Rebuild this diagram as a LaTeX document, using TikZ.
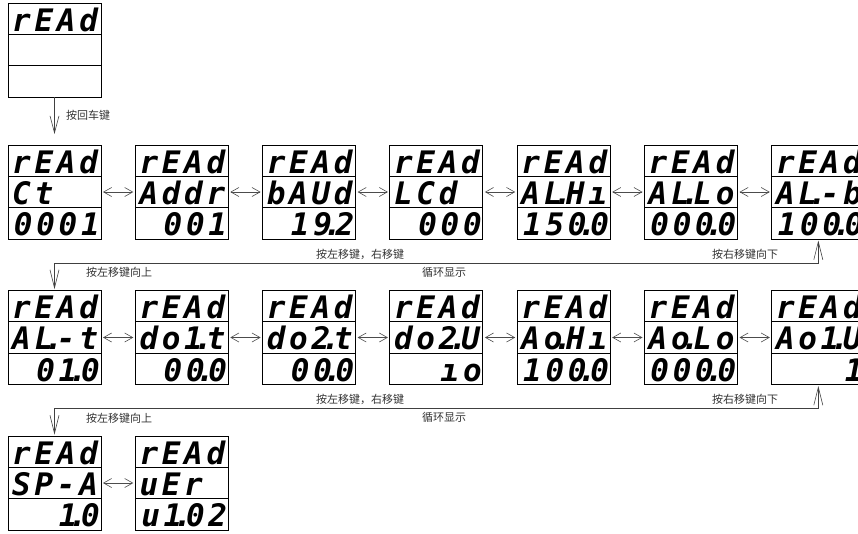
\documentclass[tikz,border=0pt]{standalone}
\usepackage{fontspec}
\newfontfamily\seg{DejaVu Sans Mono}[LetterSpace=12]
\newfontfamily\cjk{Noto Sans CJK SC}
\usetikzlibrary{arrows.meta,calc}
\newcommand\dt{\kern0.02em\makebox[0pt]{.}\kern0.10em}
\newcommand\lcd[6]{%
 \node[lcdbox] (#1) at (#2,#3) {};
 \draw[divline] ($(#1.north west)+(0,31.3)$) -- ($(#1.north east)+(0,31.3)$);
 \draw[divline] ($(#1.north west)+(0,62.7)$) -- ($(#1.north east)+(0,62.7)$);
 \node[segtxt,anchor=base west] (#1-t) at ($(#1.north west)+(4,28)$) {#4};
 \node[segtxt,anchor=base west] (#1-m) at ($(#1.north west)+(4,59.3)$) {#5};
 \node[segtxt,anchor=base east] (#1-b) at ($(#1.north east)+(-1,90.7)$) {#6};
 \coordinate (#1-e) at ($(#1.north east)+(0,47)$);
 \coordinate (#1-w) at ($(#1.north west)+(0,47)$);
}
\begin{document}
\begin{tikzpicture}[x=1pt,y=-1pt,
  lcdbox/.style={draw, line width=0.9pt, minimum width=93pt, minimum height=94pt, inner sep=0pt, outer sep=0pt, anchor=north west},
  divline/.style={line width=0.7pt},
  segtxt/.style={font=\seg\bfseries\itshape\fontsize{31}{31}\selectfont, inner sep=0pt, text depth=0pt},
  dbl/.style={draw=black!70, line width=0.6pt, {Straight Barb[length=8pt,width=9pt]}-{Straight Barb[length=8pt,width=9pt]}},
  lp/.style={draw=black!75, line width=0.6pt, {Straight Barb[length=18pt,width=9pt]}-{Straight Barb[length=18pt,width=9pt]}},
  varr/.style={draw=black!75, line width=0.6pt, -{Straight Barb[length=17pt,width=9pt]}},
  lab/.style={font=\cjk\fontsize{11}{11}\selectfont, text=black!80, inner sep=0pt}]
\useasboundingbox (0,0) rectangle (858,533);
\clip (0,0) rectangle (858,533);
% top
\lcd{top}{8}{3}{rEAd}{}{}
% row 1
\lcd{r1c1}{8}{145}{rEAd}{Ct}{0001}
\lcd{r1c2}{135.3}{145}{rEAd}{Addr}{001}
\lcd{r1c3}{262.6}{145}{rEAd}{bAUd}{19\dt2}
\lcd{r1c4}{389.9}{145}{rEAd}{LCd}{000}
\lcd{r1c5}{517.2}{145}{rEAd}{AL\dt Hı}{150\dt0}
\lcd{r1c6}{644.5}{145}{rEAd}{AL\dt Lo}{000\dt0}
\lcd{r1c7}{771.8}{145}{rEAd}{AL\dt-b}{100\dt0}
% row 2
\lcd{r2c1}{8}{290.5}{rEAd}{AL\dt-t}{01\dt0}
\lcd{r2c2}{135.3}{290.5}{rEAd}{do1\dt t}{00\dt0}
\lcd{r2c3}{262.6}{290.5}{rEAd}{do2\dt t}{00\dt0}
\lcd{r2c4}{389.9}{290.5}{rEAd}{do2\dt U}{ıo}
\lcd{r2c5}{517.2}{290.5}{rEAd}{Ao\dt Hı}{100\dt0}
\lcd{r2c6}{644.5}{290.5}{rEAd}{Ao\dt Lo}{000\dt0}
\lcd{r2c7}{771.8}{290.5}{rEAd}{Ao1\dt U}{1}
% row 3
\lcd{r3c1}{8}{436}{rEAd}{SP-A}{1\dt0}
\lcd{r3c2}{135.3}{436}{rEAd}{uEr}{u1\dt02}
% horizontal double arrows
\foreach \r/\n in {1/6,2/6,3/1}{
  \foreach \i [evaluate=\i as \j using int(\i+1)] in {1,...,\n}{
    \draw[dbl] ([xshift=2pt]r\r c\i-e) -- ([xshift=-2pt]r\r c\j-w);
  }
}
% vertical arrows
\draw[varr] (top.south) -- ([yshift=11pt]r1c1.north);
\coordinate (y1) at (0,263);
\coordinate (y2) at (0,408);
\draw[lp] ([yshift=1.5pt]r2c1.north) -- (r2c1.north |- y1) -- (r1c7.south |- y1) -- ([yshift=-1.5pt]r1c7.south);
\draw[lp] ([yshift=1.5pt]r3c1.north) -- (r3c1.north |- y2) -- (r2c7.south |- y2) -- ([yshift=-1.5pt]r2c7.south);
% labels
\node[lab] (la) at (88,115) {按回车键};
\node[lab] (lb1) at (360,254) {按左移键，右移键};
\node[lab] (lc1) at (444,272) {循环显示};
\node[lab] (ld1) at (745,254) {按右移键向下};
\node[lab] (le1) at (119,272) {按左移键向上};
\node[lab] (lb2) at (360,399) {按左移键，右移键};
\node[lab] (lc2) at (444,417) {循环显示};
\node[lab] (ld2) at (745,399) {按右移键向下};
\node[lab] (le2) at (119,418) {按左移键向上};
\end{tikzpicture}
\end{document}
